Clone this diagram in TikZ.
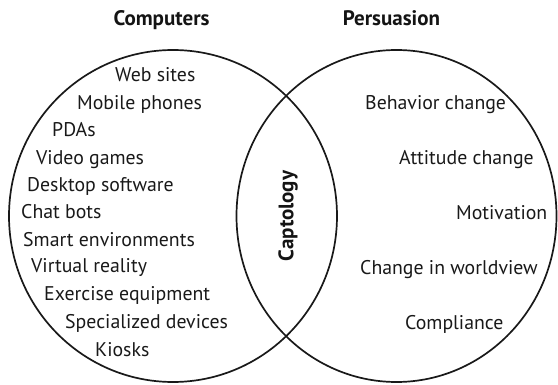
\documentclass[tikz,border=0pt]{standalone}
\usepackage{fontspec}
\setmainfont{PT Sans}
\begin{document}
\begin{tikzpicture}[x=1pt,y=-1pt,
  item/.style={anchor=base west,inner sep=0pt,text=black!90,font=\fontsize{19.8}{22}\selectfont},
  ttl/.style={anchor=base,inner sep=0pt,text=black!92,font=\fontsize{21}{24}\selectfont\bfseries},
  ring/.style={line width=1.7pt,black!90}]
\useasboundingbox (0,0) rectangle (558,385);
\draw[ring] (173,216) ellipse [x radius=164,y radius=166];
\draw[ring] (396.5,216) ellipse [x radius=160,y radius=166];
\node[ttl] (comp) at (161.5,26) {Computers};
\node[ttl] (pers) at (391.5,26) {Persuasion};
\node[ttl,rotate=90,anchor=center] (capt) at (288,216) {Captology};
\node[item] (l1) at (115,82) {Web sites};
\node[item] (l2) at (77,110) {Mobile phones};
\node[item] (l3) at (52,137) {PDAs};
\node[item] (l4) at (36,165) {Video games};
\node[item] (l5) at (27,192) {Desktop software};
\node[item] (l6) at (21,219) {Chat bots};
\node[item] (l7) at (23,247) {Smart environments};
\node[item] (l8) at (31,273) {Virtual reality};
\node[item] (l9) at (44,301) {Exercise equipment};
\node[item] (l10) at (65,329) {Specialized devices};
\node[item] (l11) at (95,357) {Kiosks};
\node[item] (r1) at (365,110) {Behavior change};
\node[item] (r2) at (399,165) {Attitude change};
\node[item] (r3) at (456,220) {Motivation};
\node[item] (r4) at (360,275) {Change in worldview};
\node[item] (r5) at (405,330) {Compliance};
\end{tikzpicture}
\end{document}
